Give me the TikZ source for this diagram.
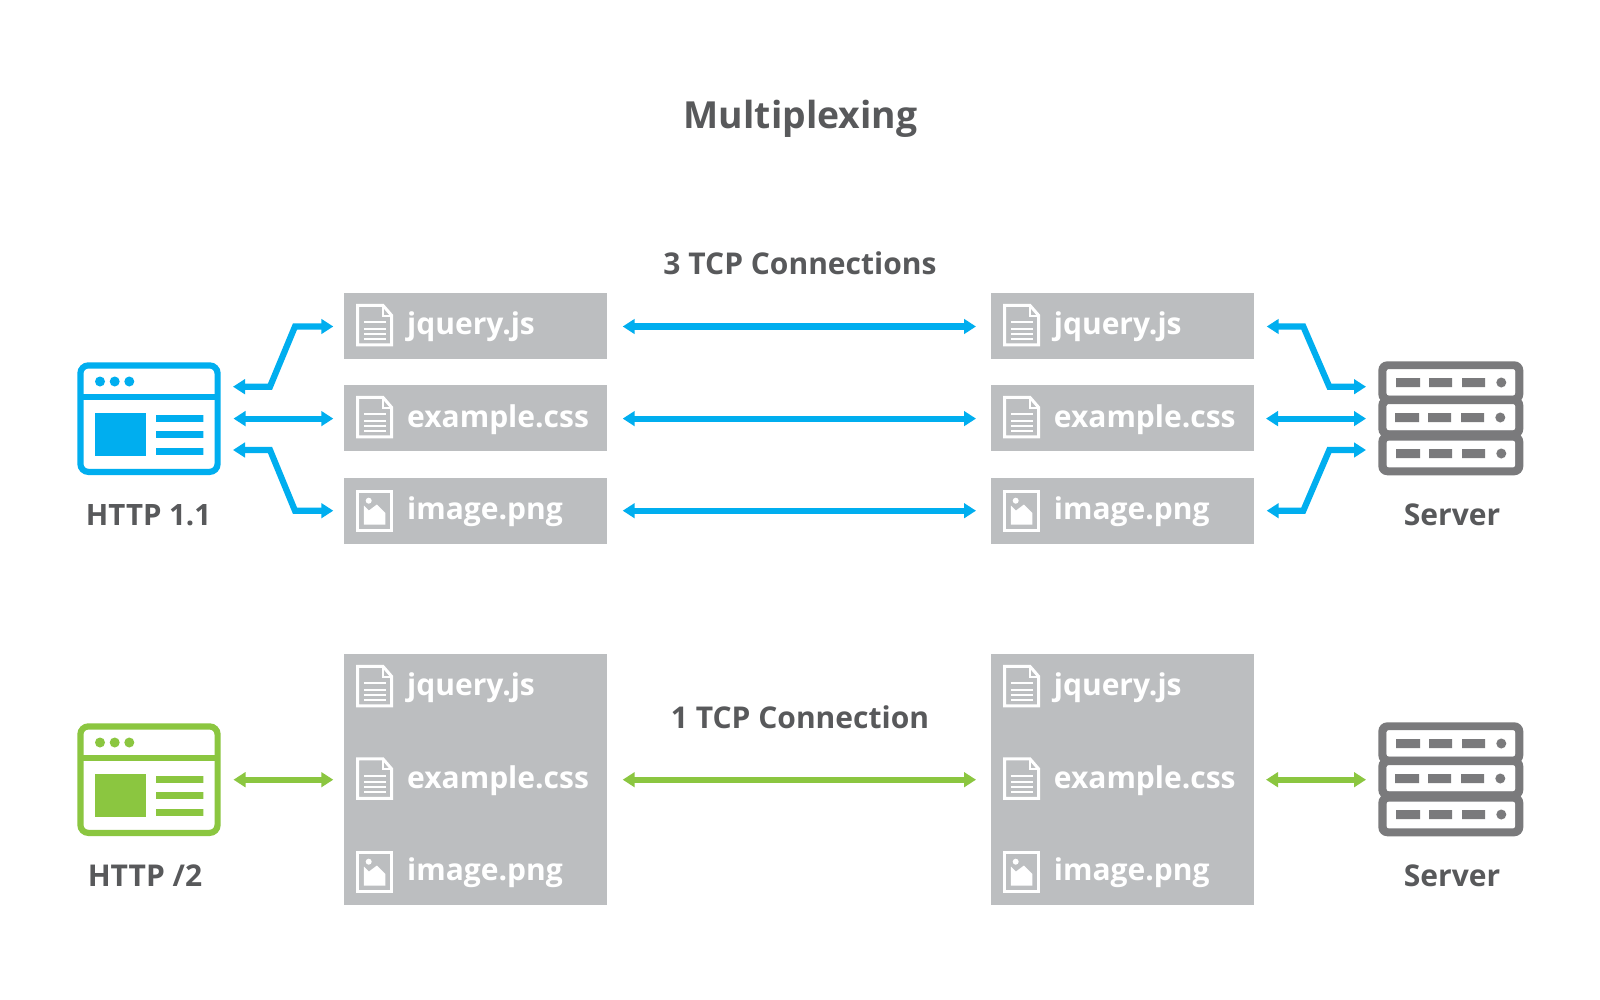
\documentclass[tikz,border=0pt]{standalone}
\usepackage{fontspec}
\setmainfont{Open Sans}
\usetikzlibrary{arrows.meta}
\definecolor{txt}{HTML}{58595B}
\definecolor{boxg}{HTML}{BCBEC0}
\definecolor{blu}{HTML}{00AEEF}
\definecolor{grn}{HTML}{8BC640}
\definecolor{srv}{HTML}{7A7A7C}
\tikzset{
  x=1pt,y=-1pt,
  filebox/.style={fill=boxg,draw=none,minimum width=263pt,inner sep=0pt,outer sep=0pt},
  fname/.style={anchor=base west,text=white,font=\fontsize{30}{30}\selectfont\bfseries,inner sep=0pt},
  lab/.style={anchor=base,text=txt,font=\fontsize{30}{30}\selectfont\bfseries,inner sep=0pt},
  link/.style={draw=#1,line width=6.2pt,miter limit=10,{Triangle[length=12pt,width=14.5pt]}-{Triangle[length=12pt,width=14.5pt]}},
}
% document icon, top-left corner at (#1,#2)
\newcommand\docicon[2]{\begin{scope}[shift={(#1,#2)},white]
  \draw[line width=3pt,miter limit=10] (1.3,1.3)--(26.5,1.3)--(35.3,11.5)--(35.3,40.9)--(1.3,40.9)--cycle;
  \draw[line width=2pt] (26.5,1.3)--(26.5,11.5)--(35.3,11.5);
  \foreach \yy in {18,24.5,29.5,34.5}{\draw[line width=2pt] (7.5,\yy)--(29.5,\yy);}
\end{scope}}
% image icon, top-left corner at (#1,#2)
\newcommand\imgicon[2]{\begin{scope}[shift={(#1,#2)},white]
  \draw[line width=3pt] (1.3,1.3) rectangle (35.3,40.9);
  \fill (12.3,10.7) circle (3pt);
  \fill (7.5,15.5)--(12.5,20.5)--(20.5,14.5)--(29,23)--(29,34.7)--(7.5,34.7)--cycle;
\end{scope}}
\newcommand\browsericon[3]{\begin{scope}[shift={(#1,#2)}]
  \draw[#3,line width=6.2pt,rounded corners=8pt] (80.4,365.4) rectangle (217.6,471.9);
  \draw[#3,line width=6.2pt] (80.3,397)--(217.7,397);
  \fill[#3] (100,381.5) circle (5pt) (114.7,381.5) circle (5pt) (129.3,381.5) circle (5pt);
  \fill[#3] (95,413) rectangle (146,455.7);
  \fill[#3] (156,415) rectangle (203.3,421.8) (156,431) rectangle (203.3,437.8) (156,448) rectangle (203.3,454.8);
\end{scope}}
\newcommand\srvrow[3]{% top of inner, height, x shift of contents
  \fill[srv,rounded corners=9pt] (1378.3,#1-8) rectangle (1523.3,#1+#2+8);
  \fill[white,rounded corners=2pt] (1386.7,#1) rectangle (1515,#1+#2);
}
\newcommand\srvbits[2]{% vertical centre, x shift
  \begin{scope}[xshift=#2 pt]
  \fill[srv] (1396,#1-4.5) rectangle (1420,#1+4.5) (1429,#1-4.5) rectangle (1452,#1+4.5) (1462,#1-4.5) rectangle (1485,#1+4.5);
  \fill[srv] (1501.3,#1) circle (5pt);
  \end{scope}}
\newcommand\servericon[2]{\begin{scope}[shift={(#1,#2)}]
  \srvrow{369.3}{26}{0}\srvrow{404.3}{25.7}{0}\srvrow{440.7}{26.6}{0}
  \fill[white,rounded corners=2pt] (1386.7,369.3) rectangle (1515,395.3);
  \fill[white,rounded corners=2pt] (1386.7,404.3) rectangle (1515,430);
  \srvbits{382.5}{0}\srvbits{417.5}{-1}\srvbits{453.5}{0}
\end{scope}}
\begin{document}
\begin{tikzpicture}
\useasboundingbox[fill=white] (0,0) rectangle (1600,1000);

% boxes
\foreach \nm/\xc in {l/475.5,r/1122.5}{
  \node[filebox,minimum height=66pt] (\nm a) at (\xc,326) {};
  \node[filebox,minimum height=66pt] (\nm b) at (\xc,418) {};
  \node[filebox,minimum height=66pt] (\nm c) at (\xc,511) {};
  \node[filebox,minimum height=251pt] (\nm d) at (\xc,779.5) {};
}
% icons in boxes
\foreach \xx in {356.4,1003.4}{
  \docicon{\xx}{304}\docicon{\xx}{396}\imgicon{\xx}{490}
  \docicon{\xx}{665}\docicon{\xx}{757.5}\imgicon{\xx}{851}
}
% file names
\foreach \nm/\xx in {l/407,r/1053.7}{
  \node[fname] (\nm1) at (\xx,334.7) {jquery.js};
  \node[fname] (\nm2) at (\xx,427.4) {example.css};
  \node[fname] (\nm3) at (\xx,519.7) {image.png};
  \node[fname] (\nm4) at (\xx,695.7) {jquery.js};
  \node[fname] (\nm5) at (\xx,788.4) {example.css};
  \node[fname] (\nm6) at (\xx,880.7) {image.png};
}
% icons
\browsericon{0}{0}{blu}
\browsericon{0}{361}{grn}
\servericon{0}{0}
\servericon{0}{361}

% labels
\node[lab,font=\fontsize{37.3}{38}\selectfont\bfseries] (title) at (800.5,128.6) {Multiplexing};
\node[lab] (tcp3) at (800,274.4) {3 TCP Connections};
\node[lab] (tcp1) at (800,728.4) {1 TCP Connection};
\node[lab,font=\fontsize{29.4}{30}\selectfont\bfseries] (h11) at (148.5,525.3) {HTTP 1.1};
\node[lab] (h2) at (145,886.3) {HTTP /2};
\node[lab] (s1) at (1452,525.3) {Server};
\node[lab] (s2) at (1452,886.3) {Server};

% connector end points
\foreach \nm/\xx/\yy in {
  ba1/233/386.7, ba2/270/386.7, ba3/295/326.5, ba4/333.3/326.5,
  bb1/233.5/418.6, bb2/333.3/418.6,
  bc1/233/450, bc2/270/450, bc3/295/510.7, bc4/333.3/510.7,
  ma1/622.7/326.5, ma2/976/326.5, mb1/622.7/418.6, mb2/976/418.6, mc1/622.7/510.7, mc2/976/510.7,
  sa1/1266.7/326.5, sa2/1303.3/326.5, sa3/1329.3/386.7, sa4/1366/386.7,
  sb1/1266/418.6, sb2/1366/418.6,
  sc1/1266.7/510.7, sc2/1303.3/510.7, sc3/1329.3/450, sc4/1366/450,
  gb1/233.5/779.7, gb2/333.3/779.7, gm1/622.7/779.7, gm2/976/779.7, gs1/1266/779.7, gs2/1366/779.7
}{\coordinate (\nm) at (\xx,\yy);}

\draw[link=blu] (ba1)--(ba2)--(ba3)--(ba4);
\draw[link=blu] (bb1)--(bb2);
\draw[link=blu] (bc1)--(bc2)--(bc3)--(bc4);
\draw[link=blu] (ma1)--(ma2);
\draw[link=blu] (mb1)--(mb2);
\draw[link=blu] (mc1)--(mc2);
\draw[link=blu] (sa1)--(sa2)--(sa3)--(sa4);
\draw[link=blu] (sb1)--(sb2);
\draw[link=blu] (sc1)--(sc2)--(sc3)--(sc4);
\draw[link=grn] (gb1)--(gb2);
\draw[link=grn] (gm1)--(gm2);
\draw[link=grn] (gs1)--(gs2);
\end{tikzpicture}
\end{document}
